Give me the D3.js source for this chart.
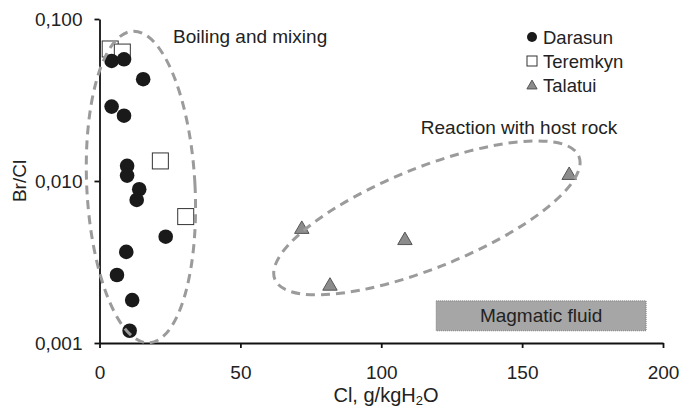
<!DOCTYPE html>
<html>
<head>
<meta charset="utf-8">
<script src="https://cdn.jsdelivr.net/npm/d3@7"></script>
<style>
  body { margin: 0; background: #fff; }
  svg { display: block; font-family: "Liberation Sans", Arial, sans-serif; }
</style>
</head>
<body>
<div id="chart"></div>
<script>
// Data: Cl (g/kgH2O) vs Br/Cl
const darasunCl = [4.3, 8.7, 15.5, 4.3, 8.7, 9.8, 9.8, 14.1, 13.2, 23.5, 9.5, 6.2, 11.6, 10.7];
const darasunBr = [0.0551, 0.0564, 0.0425, 0.0288, 0.0253, 0.0124, 0.0108, 0.00889, 0.00764, 0.00453, 0.00365, 0.00263, 0.00184, 0.00119];

const teremkynCl = [3.8, 8.1, 21.6, 30.6];
const teremkynBr = [0.0653, 0.0625, 0.0133, 0.00603];

const talatuiCl = [71.8, 81.8, 108.4, 166.7];
const talatuiBr = [0.00511, 0.00228, 0.00436, 0.0110];

const xTicks = [0, 50, 100, 150, 200];
const yTicks = [0.001, 0.01, 0.1];

// Fields: centre (Cl, Br/Cl), half width in Cl units, half height in decades, tilt
const fieldNames = ["Boiling and mixing", "Reaction with host rock"];
const fieldCx = [14.7, 116.2];
const fieldCy = [0.00918, 0.00592];
const fieldRx = [19.2, 58.2];
const fieldRy = [0.963, 0.309];
const fieldTilt = [-3, -22];

// Magmatic fluid box
const magmaticCl = [119.5, 194];
const magmaticBr = [0.00119, 0.00182];

const width = 680;
const height = 408;
const margin = { top: 19, right: 17, bottom: 65, left: 99.5 };
const innerWidth = width - margin.left - margin.right;
const innerHeight = height - margin.top - margin.bottom;
const fontSize = "19px";

const svg = d3.select("#chart")
    .append("svg")
    .attr("width", width)
    .attr("height", height);

const g = svg.append("g")
    .attr("transform", `translate(${margin.left}, ${margin.top})`);

const x = d3.scaleLinear()
    .domain([0, 200])
    .range([0, innerWidth]);

const y = d3.scaleLog()
    .domain([0.001, 0.1])
    .range([innerHeight, 0]);

const comma = d3.formatLocale({ decimal: ",", thousands: ".", grouping: [3], currency: ["", ""] });
const yFormat = comma.format(".3f");

// Magmatic fluid box
g.append("rect")
    .attr("x", x(magmaticCl[0]))
    .attr("y", y(magmaticBr[1]))
    .attr("width", x(magmaticCl[1]) - x(magmaticCl[0]))
    .attr("height", y(magmaticBr[0]) - y(magmaticBr[1]))
    .attr("fill", "#a6a6a6")
    .attr("stroke", "#7a7a7a")
    .attr("stroke-width", 1)
    .attr("stroke-dasharray", "1,1");

g.append("text")
    .attr("x", x((magmaticCl[0] + magmaticCl[1]) / 2))
    .attr("y", (y(magmaticBr[0]) + y(magmaticBr[1])) / 2)
    .attr("dy", "0.35em")
    .attr("text-anchor", "middle")
    .attr("font-size", fontSize)
    .attr("fill", "#222")
    .text("Magmatic fluid");

// Axes
const xAxis = d3.axisBottom(x)
    .tickValues(xTicks)
    .tickSizeInner(5)
    .tickSizeOuter(0)
    .tickFormat(d3.format("d"));

const xg = g.append("g")
    .attr("transform", `translate(0, ${innerHeight})`)
    .call(xAxis);

xg.selectAll("text")
    .attr("y", 36)
    .attr("dy", null)
    .attr("font-size", fontSize)
    .attr("font-family", "Liberation Sans, Arial, sans-serif")
    .attr("fill", "#222");

const yAxis = d3.axisLeft(y)
    .tickValues(yTicks)
    .tickSizeInner(5)
    .tickSizeOuter(0)
    .tickFormat(yFormat);

const yg = g.append("g")
    .call(yAxis);

yg.selectAll("text")
    .attr("x", -17)
    .attr("dy", "0.36em")
    .attr("font-size", fontSize)
    .attr("font-family", "Liberation Sans, Arial, sans-serif")
    .attr("fill", "#222");

[xg, yg].forEach(a => {
    a.select(".domain").attr("stroke", "#111").attr("stroke-width", 1.8);
    a.selectAll(".tick line").attr("stroke", "#111").attr("stroke-width", 1.8);
});

// Axis titles
svg.append("text")
    .attr("transform", `translate(26, ${margin.top + innerHeight / 2}) rotate(-90)`)
    .attr("text-anchor", "middle")
    .attr("font-size", fontSize)
    .attr("fill", "#222")
    .text("Br/Cl");

const xTitle = svg.append("text")
    .attr("x", 386)
    .attr("y", 402)
    .attr("text-anchor", "middle")
    .attr("font-size", "20px")
    .attr("fill", "#222");
xTitle.append("tspan").text("Cl, g/kgH");
xTitle.append("tspan").attr("font-size", "13px").attr("dy", 3).text("2");
xTitle.append("tspan").attr("dy", -3).text("O");

// Points
const teremkyn = teremkynCl.map((c, i) => ({ cl: c, br: teremkynBr[i] }));
const darasun = darasunCl.map((c, i) => ({ cl: c, br: darasunBr[i] }));
const talatui = talatuiCl.map((c, i) => ({ cl: c, br: talatuiBr[i] }));

const sq = 16;
g.append("g")
    .selectAll("rect")
    .data(teremkyn)
    .enter()
    .append("rect")
    .attr("x", d => x(d.cl) - sq / 2)
    .attr("y", d => y(d.br) - sq / 2)
    .attr("width", sq)
    .attr("height", sq)
    .attr("fill", "#fff")
    .attr("stroke", "#333")
    .attr("stroke-width", 1);

g.append("g")
    .selectAll("circle")
    .data(darasun)
    .enter()
    .append("circle")
    .attr("cx", d => x(d.cl))
    .attr("cy", d => y(d.br))
    .attr("r", 7.3)
    .attr("fill", "#1a1a1a");

const tri = d3.symbol().type(d3.symbolTriangle).size(90);
g.append("g")
    .selectAll("path")
    .data(talatui)
    .enter()
    .append("path")
    .attr("d", tri)
    .attr("transform", d => `translate(${x(d.cl)}, ${y(d.br) + 1})`)
    .attr("fill", "#8c8c8c")
    .attr("stroke", "#555")
    .attr("stroke-width", 1);

// Dashed fields, drawn over the points
fieldNames.forEach((name, i) => {
    const cx = x(fieldCx[i]);
    const cy = y(fieldCy[i]);
    const rx = x(fieldCx[i] + fieldRx[i]) - cx;
    const ry = cy - y(fieldCy[i] * Math.pow(10, fieldRy[i]));
    g.append("ellipse")
        .attr("transform", `translate(${cx}, ${cy}) rotate(${fieldTilt[i]})`)
        .attr("rx", rx)
        .attr("ry", ry)
        .attr("fill", "none")
        .attr("stroke", "#9b9b9b")
        .attr("stroke-width", 3)
        .attr("stroke-dasharray", "9,6");
});

// Field labels
svg.append("text")
    .attr("x", 173)
    .attr("y", 43)
    .attr("font-size", fontSize)
    .attr("fill", "#222")
    .text(fieldNames[0]);

svg.append("text")
    .attr("x", 519)
    .attr("y", 134)
    .attr("text-anchor", "middle")
    .attr("font-size", fontSize)
    .attr("fill", "#222")
    .text(fieldNames[1]);

// Legend
const legendNames = ["Darasun", "Teremkyn", "Talatui"];
const legend = svg.append("g")
    .attr("transform", "translate(532, 37)");

legendNames.forEach((name, i) => {
    const row = legend.append("g").attr("transform", `translate(0, ${i * 24})`);
    if (i === 0) {
        row.append("circle").attr("r", 5).attr("fill", "#1a1a1a");
    } else if (i === 1) {
        row.append("rect").attr("x", -5).attr("y", -5).attr("width", 10).attr("height", 10)
            .attr("fill", "#fff").attr("stroke", "#333").attr("stroke-width", 1);
    } else {
        row.append("path").attr("d", d3.symbol().type(d3.symbolTriangle).size(45))
            .attr("transform", "translate(0, 1)")
            .attr("fill", "#8c8c8c").attr("stroke", "#555").attr("stroke-width", 1);
    }
    row.append("text")
        .attr("x", 11)
        .attr("y", 6.5)
        .attr("font-size", "18.5px")
        .attr("fill", "#222")
        .text(name);
});
</script>
</body>
</html>
